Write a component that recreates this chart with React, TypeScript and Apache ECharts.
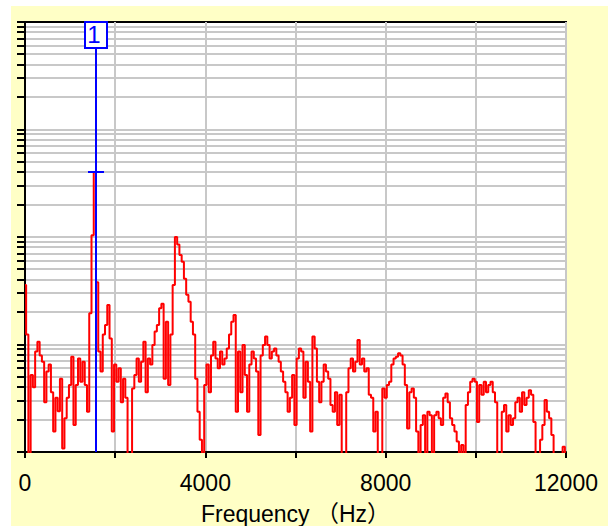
import React, { useEffect, useRef } from "react";
import * as echarts from "echarts";

// Spectrum amplitude, one value per FREQ_STEP Hz, starting at 0 Hz
const FREQ_STEP = 50;
const AMPLITUDE = [
  35.7, 12.4, 0.8, 5.2, 4.0, 8.6, 10.6, 7.9, 6.9, 2.9,
  5.6, 6.5, 3.6, 1.55, 3.2, 2.4, 4.8, 1.08, 2.06, 3.2,
  4.2, 7.7, 1.78, 4.2, 7.4, 4.5, 6.9, 4.2, 2.37, 19.5,
  104, 403, 38, 8.6, 5.6, 12.4, 15.2, 23.3, 11.4, 1.55,
  6.5, 4.5, 6.0, 2.9, 4.8, 3.2, 0.8, 0.8, 3.9, 5.2,
  7.4, 4.5, 6.9, 10.6, 3.6, 7.4, 6.5, 9.9, 13.2, 15.2,
  21.7, 24, 4.8, 16.3, 4.2, 12.4, 35.7, 100, 85, 68,
  59, 41, 29, 25, 16.3, 12.4, 4.8, 2.37, 1.3, 0.8,
  4.2, 6.5, 3.6, 7.9, 10.6, 7.4, 6.0, 8.6, 6.5, 7.4,
  9.2, 12.4, 16.3, 18.8, 2.37, 8.6, 3.6, 9.9, 5.2, 2.37,
  6.5, 8.6, 7.4, 5.6, 1.44, 7.9, 9.9, 11.9, 9.9, 7.4,
  8.6, 9.2, 7.9, 6.9, 5.6, 4.5, 3.6, 2.37, 3.2, 5.2,
  1.78, 7.4, 9.2, 8.6, 3.2, 6.9, 4.5, 1.55, 11.9, 9.2,
  4.5, 2.9, 4.5, 6.5, 5.6, 4.8, 2.74, 2.37, 3.6, 1.78,
  3.4, 0.8, 0.8, 3.6, 6.0, 7.4, 5.6, 6.9, 11, 6.5,
  7.4, 5.6, 6.0, 3.4, 3.2, 1.55, 2.37, 0.8, 0.8, 3.9,
  3.2, 4.2, 4.5, 6.5, 7.4, 7.7, 8.3, 7.9, 6.5, 4.2,
  1.65, 3.6, 3.9, 3.2, 1.55, 0.8, 1.78, 2.2, 0.8, 2.37,
  2.2, 0.8, 2.2, 2.37, 2.06, 1.78, 3.2, 3.5, 2.9, 2.06,
  1.78, 1.55, 1.25, 0.8, 1.16, 0.8, 2.74, 3.6, 4.5, 4.8,
  4.5, 1.9, 4.2, 3.4, 4.5, 3.6, 4.2, 4.5, 3.6, 2.9,
  0.8, 0.8, 2.37, 2.74, 1.55, 2.2, 1.78, 2.06, 2.9, 3.2,
  2.37, 3.6, 2.74, 3.2, 3.75, 3.4, 1.9, 0.8, 0.8, 1.3,
  1.78, 3.05, 2.37, 2.06, 1.44, 0.8, 0.8, 0.8, 0.8, 1.12, 0.8,
];

const X_MIN = 0;
const X_MAX = 12000;
const X_GRID_STEP = 2000;
const X_LABEL_STEP = 4000;
const X_TITLE = "Frequency （Hz）";

const Y_MIN = 1;
const Y_MAX = 10000;
const Y_DECADES = [1, 10, 100, 1000];
const Y_MULTIPLIERS = [1, 2, 3, 4, 5, 6, 7, 8, 9];

const MARKER = { label: "1", freq: 1580, value: 403 };

export default function App() {
  const ref = useRef<HTMLDivElement>(null);

  useEffect(() => {
    if (!ref.current) return;
    const chart = echarts.init(ref.current, null, { renderer: "svg" });

    const gridValues: number[] = [];
    Y_DECADES.forEach((d) => Y_MULTIPLIERS.forEach((m) => gridValues.push(d * m)));
    gridValues.push(Y_MAX);

    const lineData = AMPLITUDE.map((v, i) => [i * FREQ_STEP, v]);

    chart.setOption({
      animation: false,
      backgroundColor: "#ffffc6",
      grid: {
        left: 14,
        top: 16,
        right: 42,
        bottom: 74,
        show: true,
        containLabel: false,
        outerBoundsMode: "none",
        backgroundColor: "#ffffff",
        borderColor: "#000000",
        borderWidth: 2,
      },
      xAxis: {
        type: "value",
        min: X_MIN,
        max: X_MAX,
        interval: X_GRID_STEP,
        name: X_TITLE,
        nameLocation: "middle",
        nameGap: 50,
        nameTextStyle: {
          color: "#000",
          fontSize: 23,
          fontFamily: "Liberation Sans, Noto Sans CJK JP",
        },
        axisLine: { show: true, lineStyle: { color: "#000", width: 2 } },
        axisTick: { show: true, length: 6, lineStyle: { color: "#000", width: 2 } },
        axisLabel: {
          color: "#000",
          fontSize: 23,
          fontFamily: "Liberation Sans",
          margin: 19,
          formatter: (v: number) => (v % X_LABEL_STEP === 0 ? String(v) : ""),
        },
        splitLine: { show: true, lineStyle: { color: "#c8c8c8", width: 2 } },
      },
      yAxis: {
        type: "log",
        logBase: 10,
        min: Y_MIN,
        max: Y_MAX,
        axisLine: { show: true, lineStyle: { color: "#000", width: 2 } },
        axisTick: { show: false },
        axisLabel: { show: false },
        splitLine: { show: false },
      },
      series: [
        {
          type: "custom",
          z: 1,
          silent: true,
          data: gridValues.map((v) => [X_MIN, v]),
          renderItem: (params: any, api: any) => {
            const cs = params.coordSys;
            const v = api.value(1);
            const p = api.coord([X_MIN, v]);
            const y = Math.round(p[1]);
            const children: any[] = [
              {
                type: "line",
                shape: { x1: cs.x - 8, y1: y, x2: cs.x, y2: y },
                style: { stroke: "#000", lineWidth: 2 },
              },
            ];
            if (v !== Y_MIN && v !== Y_MAX) {
              children.push({
                type: "line",
                shape: { x1: cs.x + 1, y1: y, x2: cs.x + cs.width - 1, y2: y },
                style: { stroke: "#c8c8c8", lineWidth: 2 },
              });
            }
            return { type: "group", children };
          },
        },
        {
          type: "line",
          z: 3,
          data: lineData,
          showSymbol: false,
          symbol: "none",
          step: "middle",
          clip: true,
          lineStyle: { color: "#ff0000", width: 2 },
        },
        {
          type: "custom",
          z: 5,
          silent: true,
          data: [[MARKER.freq, MARKER.value]],
          renderItem: (params: any, api: any) => {
            const cs = params.coordSys;
            const p = api.coord([api.value(0), api.value(1)]);
            const px = Math.round(p[0]);
            const py = Math.round(p[1]);
            const top = cs.y;
            const bottom = cs.y + cs.height;
            const boxH = 26;
            const boxW = 22;
            return {
              type: "group",
              children: [
                {
                  type: "line",
                  shape: { x1: px, y1: top + boxH, x2: px, y2: bottom },
                  style: { stroke: "#0000ff", lineWidth: 2 },
                },
                {
                  type: "line",
                  shape: { x1: px - 8, y1: py, x2: px + 8, y2: py },
                  style: { stroke: "#0000ff", lineWidth: 2 },
                },
                {
                  type: "rect",
                  shape: { x: px - boxW / 2, y: top, width: boxW, height: boxH },
                  style: { fill: "#ffffff", stroke: "#0000ff", lineWidth: 2 },
                },
                {
                  type: "text",
                  x: px - 2,
                  y: top + 12,
                  style: {
                    text: MARKER.label,
                    fill: "#0000ff",
                    fontSize: 24,
                    fontFamily: "Liberation Sans",
                    align: "center",
                    verticalAlign: "middle",
                  },
                },
              ],
            };
          },
        },
      ],
    });

    return () => chart.dispose();
  }, []);

  return (
    <div
      style={{
        position: "absolute",
        left: 0,
        top: 0,
        width: 608,
        height: 526,
        background: "#ffffff",
        overflow: "hidden",
      }}
    >
      <div
        ref={ref}
        style={{ position: "absolute", left: 11, top: 6, width: 597, height: 520 }}
      />
    </div>
  );
}
